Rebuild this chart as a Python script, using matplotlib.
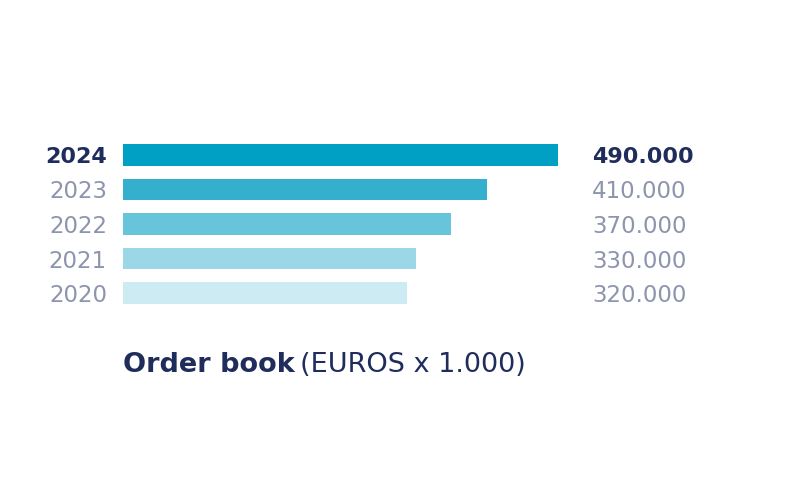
import matplotlib
matplotlib.use('Agg')
import matplotlib.pyplot as plt

# data
years = ['2020', '2021', '2022', '2023', '2024']
values = [320, 330, 370, 410, 490]
value_labels = ['320.000', '330.000', '370.000', '410.000', '490.000']
colors = ['#cdebf2', '#9bd7e6', '#68c4da', '#34afce', '#00a0c4']

navy = '#1f2d5c'
grey = '#8d95ae'
plt.rcParams['font.family'] = ['DejaVu Sans']

fig = plt.figure(figsize=(8.01, 5.01), dpi=100)
ax = fig.add_axes([123 / 801, 197 / 501, 435 / 801, 160 / 501])

h = 0.634
pos = list(range(len(years)))
ax.barh(pos, values, height=h, color=colors)
ax.set_xlim(0, max(values))
ax.set_ylim(-h / 2, len(years) - 1 + h / 2)
ax.axis('off')

for i, (yr, lab) in enumerate(zip(years, value_labels)):
    last = i == len(years) - 1
    weight = 'bold' if last else 'normal'
    col = navy if last else grey
    size = 16 if last else 16.5
    ax.annotate(yr, xy=(-0.037, i), xycoords=('axes fraction', 'data'),
                ha='right', va='center_baseline', fontsize=size, fontweight=weight, color=col)
    ax.annotate(lab, xy=(1.078, i), xycoords=('axes fraction', 'data'),
                ha='left', va='center_baseline', fontsize=size, fontweight=weight, color=col)

# title in two parts: bold + regular
t1 = fig.text(123 / 801, 1 - 372 / 501, 'Order book', fontsize=19.5,
              fontweight='bold', color=navy, ha='left', va='baseline')
fig.canvas.draw()
bb = t1.get_window_extent()
fig.text(bb.x1 / fig.bbox.width + 0.006, 1 - 372 / 501, '(EUROS x 1.000)',
         fontsize=19.5, color=navy, ha='left', va='baseline')

plt.savefig('out.png', dpi=100)
